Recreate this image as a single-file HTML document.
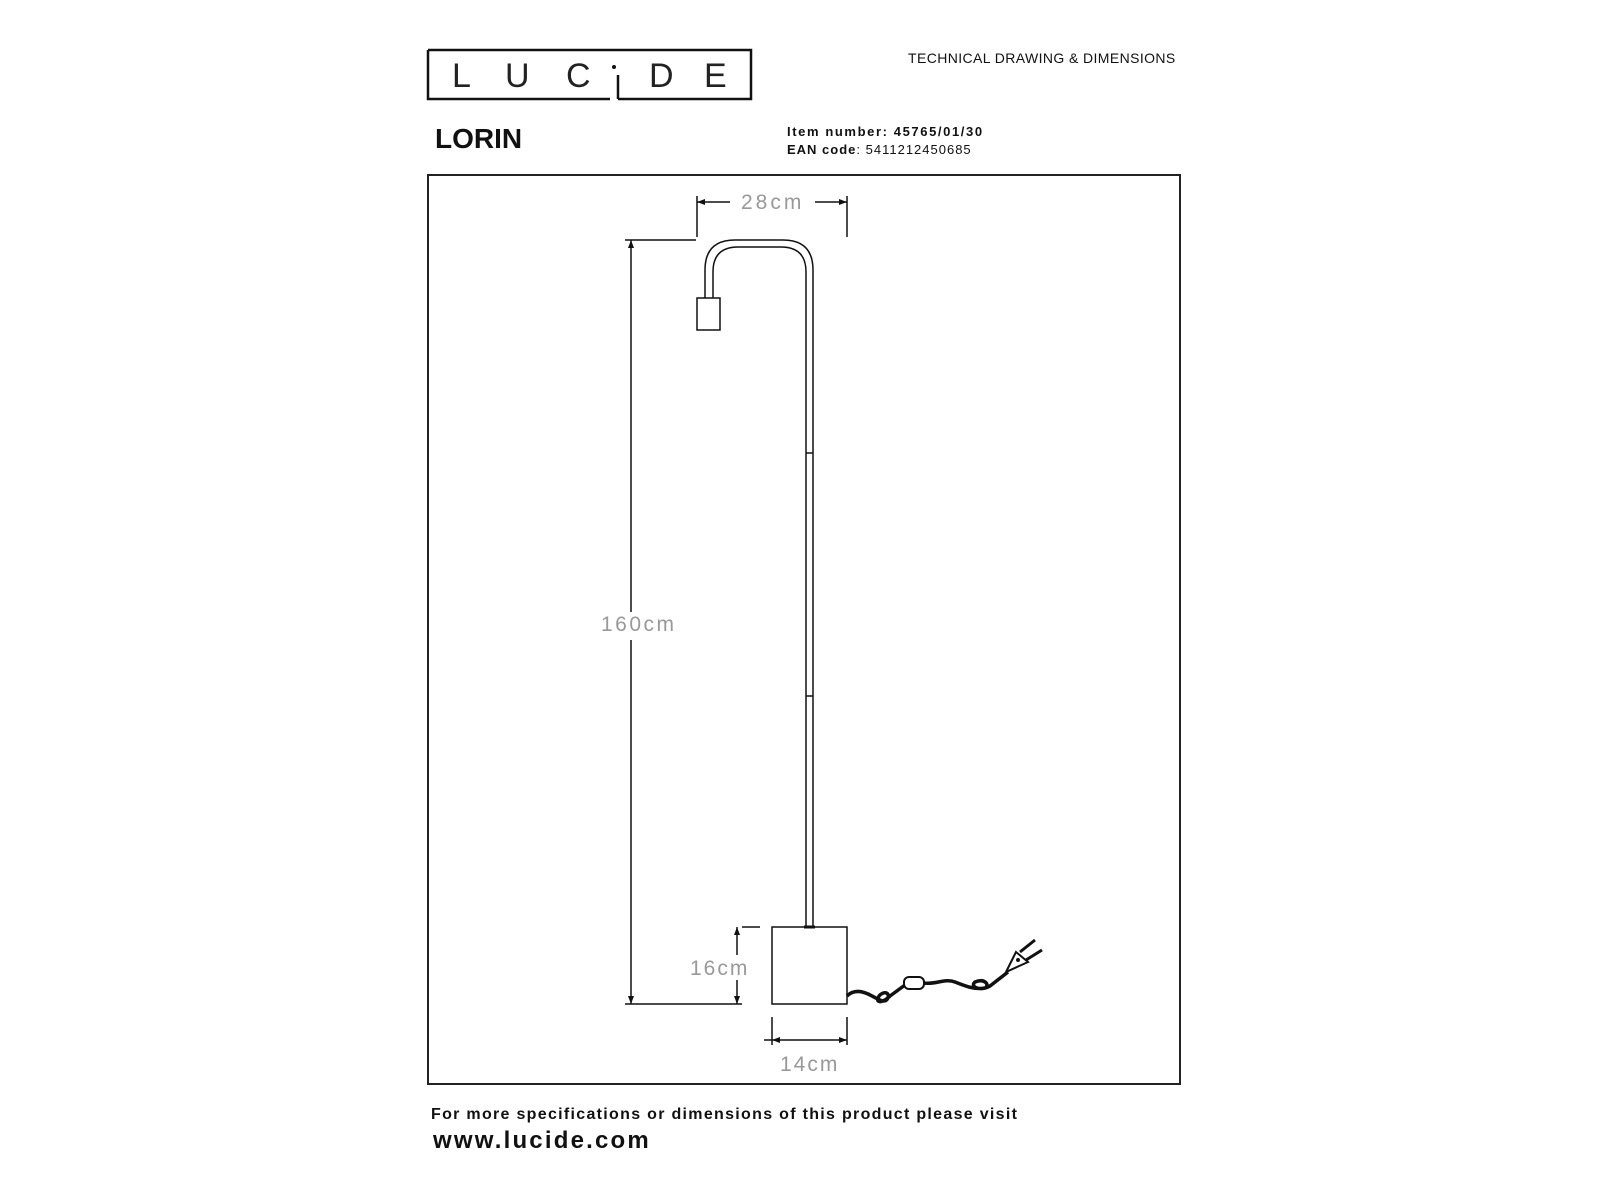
<!DOCTYPE html>
<html><head><meta charset="utf-8"><style>
body{margin:0;background:#fff;width:1600px;height:1200px;overflow:hidden;position:relative;font-family:"Liberation Sans",sans-serif}
.t{position:absolute;white-space:nowrap}
</style></head><body>
<svg width="1600" height="1200" style="position:absolute;left:0;top:0">
<g fill="none" stroke="#111" stroke-width="2.5">
<path d="M428 50 H751 V99 H618 M610 99 H428 V50"/>
<path d="M618 99 V75"/>
</g>
<circle cx="614" cy="67" r="2" fill="#111"/>
<g font-family="Liberation Sans" font-size="34" fill="#222">
<text x="452" y="87">L</text><text x="505" y="87">U</text><text x="566" y="87">C</text><text x="649" y="87">D</text><text x="704" y="87">E</text>
</g>
<rect x="428" y="175" width="752" height="909" fill="none" stroke="#222" stroke-width="2"/>
<g fill="none" stroke="#111" stroke-width="1.5">
<path d="M697 196 V237 M847 196 V237 M697 202 H730 M815 202 H847"/>
<path d="M625 240 H696 M631 240 V612 M631 640 V1004 M742 927 H760 M625 1004 H742 M737 927 V955 M737 980 V1004"/>
<path d="M772 1017 V1045 M847 1017 V1045 M764 1040 H847"/>
<path d="M705 298 V270 Q705 240 735 240 H783 Q813 240 813 270 V927"/>
<path d="M713 298 V272 Q713 247 738 247 H781 Q806 247 806 272 V927"/>
<rect x="697" y="298" width="23" height="32"/>
<path d="M806 453 H813 M806 696 H813"/>
<rect x="772" y="927" width="75" height="77"/>
</g>
<path d="M804 927 H815" stroke="#111" stroke-width="3"/>
<g fill="#111">
<path d="M697 202 l8 -3 v6z M847 202 l-8 -3 v6z M631 240 l-3 8 h6z M631 1004 l-3 -8 h6z M737 927 l-3 8 h6z M737 1004 l-3 -8 h6z M772 1040 l8 -3 v6z M847 1040 l-8 -3 v6z"/>
</g>
<g fill="none" stroke="#111" stroke-width="3.5" stroke-linejoin="round">
<path d="M847 996 C855 988 865 992 872 996 C880 1000 885 1004 888 998 C890 990 880 992 878 998 C876 1004 884 1002 890 996 L905 985"/>
<path d="M924 983 C935 985 945 978 955 982 C965 986 975 990 985 988 C990 985 985 978 975 982 C970 986 978 992 990 986 L1008 972"/>
</g>
<rect x="904" y="977" width="20" height="12" rx="5" fill="#fff" stroke="#111" stroke-width="2"/>
<path d="M1006 972 L1016 952 L1028 962 Z" fill="#fff" stroke="#111" stroke-width="2"/>
<circle cx="1018" cy="960" r="2" fill="#111"/>
<path d="M1020 952 L1035 940 M1026 960 L1042 950" stroke="#111" stroke-width="3"/>
<g font-family="Liberation Sans" font-size="21" fill="#999">
<text x="741" y="209" letter-spacing="3">28cm</text>
<text x="601" y="631" letter-spacing="2.5">160cm</text>
<text x="690" y="975" letter-spacing="2">16cm</text>
<text x="780" y="1071" letter-spacing="2">14cm</text>
</g>
</svg>
<div class="t" style="left:908px;top:50px;font-size:14px;color:#111;letter-spacing:0.4px">TECHNICAL DRAWING &amp; DIMENSIONS</div>
<div class="t" style="left:435px;top:123px;font-size:28px;font-weight:bold;color:#111">LORIN</div>
<div class="t" style="left:787px;top:124px;font-size:13px;font-weight:bold;color:#111;letter-spacing:1.6px">Item number: 45765/01/30</div>
<div class="t" style="left:787px;top:142px;font-size:13px;color:#111;letter-spacing:1px"><b>EAN code</b>: 5411212450685</div>
<div class="t" style="left:431px;top:1106px;font-size:16px;font-weight:bold;color:#111;letter-spacing:1.3px">For more specifications or dimensions of this product please visit</div>
<div class="t" style="left:433px;top:1127px;font-size:24px;font-weight:bold;color:#111;letter-spacing:2.2px">www.lucide.com</div>
</body></html>
